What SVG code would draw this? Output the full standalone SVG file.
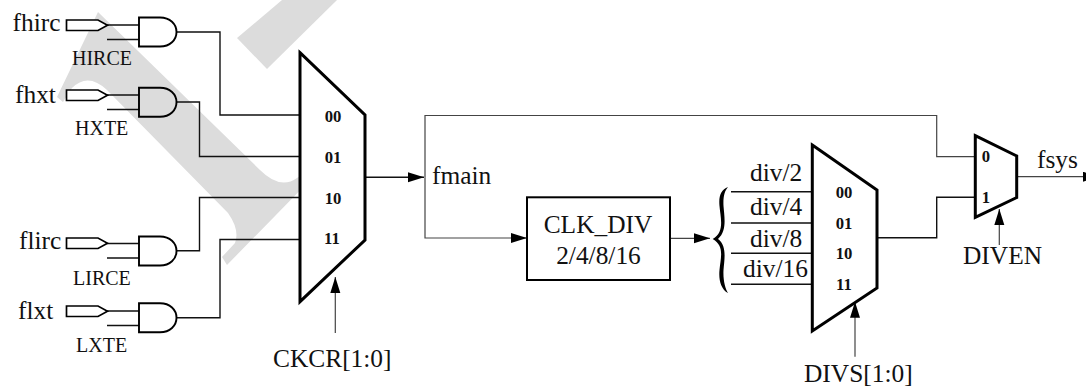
<svg xmlns="http://www.w3.org/2000/svg" width="1086" height="387" viewBox="0 0 1086 387">
<style>
text{font-family:"Liberation Serif","Times New Roman",serif;fill:#111}
.l{font-size:25.4px}.s{font-size:20px}.b{font-size:16.7px;font-weight:bold;text-anchor:middle}
.m{text-anchor:middle}
.w{fill:none;stroke:#111;stroke-width:1.4}
.t{fill:none;stroke:#444;stroke-width:1.2}
.mux{fill:#fff;stroke:#000;stroke-width:3;stroke-linejoin:miter}
.gate{fill:none;stroke:#000;stroke-width:1.9}
.pin{fill:#fff;stroke:#000;stroke-width:1.7}
.box{fill:#fff;stroke:#000;stroke-width:2}
.a{marker-end:url(#arrow)}
</style>
<defs>
<marker id="arrow" markerUnits="userSpaceOnUse" markerWidth="17" markerHeight="11" refX="16" refY="5" orient="auto"><path d="M0,0L16,5L0,10Z" fill="#000"/></marker>
<path id="and" d="M139,17.5H160C170,17.5 176.500,24 176.500,32C176.500,40 170,46.500 160,46.500H139Z"/>
<path id="pent" d="M66.500,20H98L107.500,25.200L98,30.500H66.500Z"/>
</defs>
<g id="watermark" fill="#dcdcdc">
<path d="M98,12L260,170Q280,190 297,178L312,168L317,173L227,265L222,257L235,243Q240,230 228,213L107,90Q88,72 72,88L63,102L57,97Z"/>
<path d="M237,38L267,69L337,0H282Z"/>
</g>
<g id="connectors">
<path class="w" d="M107,25H139M107,39.500H139M176,32H220V115H300"/>
<path class="w" d="M107,95H139M107,109.500H139M176,102H199.500V156.500H300"/>
<path class="w" d="M107,243.500H139M107,258H139M176,250.700H199.500V197.500H300"/>
<path class="w" d="M107,311H139M107,325.500H139M176,317.700H220V239.500H300"/>
<path class="w a" d="M366,177.300H424"/>
<path class="t" d="M425,177.300V115.500H936.700V156.700H975"/>
<path class="t a" d="M425,177.300V238H527"/>
<path class="t a" d="M670,238.300H710"/>
<path class="w" d="M731,191.700H812M731,223H812M731,253.300H812M731,284.300H812"/>
<path class="w" d="M877,237.700H936.700V197.300H975"/>
<path class="t a" d="M1018,176.700H1099"/>
<path class="t a" d="M335.300,333V277"/>
<path class="t a" d="M855,356.700V301.700"/>
<path class="t a" d="M999.300,245V209"/>
<path d="M728,187C721,190 718.500,196 719.500,206C720.500,218 725,232 712.700,239C725,246 720.500,258 719.500,270C718.500,280 721,289 728,293C725,288 723,280 723.500,270C724.500,258 727,246 718,239C727,231 724.500,218 723.500,206C723,197 724.500,191 728,187Z" fill="#000"/>
</g>
<g id="in-fhirc"><text class="l" x="12.500" y="31">fhirc</text><use href="#pent" class="pin"/><text class="s" x="72" y="64.700">HIRCE</text><use href="#and" class="gate"/></g>
<g id="in-fhxt"><text class="l" x="15" y="102.700">fhxt</text><use href="#pent" class="pin" y="70"/><text class="s" x="75" y="135">HXTE</text><use href="#and" class="gate" y="70.200"/></g>
<g id="in-flirc"><text class="l" x="19" y="249">flirc</text><use href="#pent" class="pin" y="218"/><text class="s" x="73" y="285">LIRCE</text><use href="#and" class="gate" y="219"/></g>
<g id="in-flxt"><text class="l" x="18" y="319.300">flxt</text><use href="#pent" class="pin" y="286"/><text class="s" x="76" y="352">LXTE</text><use href="#and" class="gate" y="285.700"/></g>
<g id="mux-ckcr"><path class="mux" d="M300,52.700L365,115V240L300,301.700Z"/><text class="b" x="333" y="121.700">00</text><text class="b" x="333" y="162.700">01</text><text class="b" x="333" y="204">10</text><text class="b" x="332" y="244">11</text><text class="l" x="273" y="366.700">CKCR[1:0]</text></g>
<g id="fmain"><text class="l" x="432" y="184">fmain</text></g>
<g id="clk-div"><rect class="box" x="527" y="197.300" width="143" height="82.700"/><text class="l m" x="598" y="233">CLK_DIV</text><text class="l m" x="598.500" y="264">2/4/8/16</text></g>
<g id="div-labels"><text class="l" x="750" y="180.700">div/2</text><text class="l" x="750" y="215">div/4</text><text class="l" x="750" y="246.700">div/8</text><text class="l" x="743" y="276.700">div/16</text></g>
<g id="mux-divs"><path class="mux" d="M812.300,145L877,190V288L812.300,331Z"/><text class="b" x="844" y="197.700">00</text><text class="b" x="844" y="229">01</text><text class="b" x="844" y="259">10</text><text class="b" x="844" y="290">11</text><text class="l" x="804" y="381.700">DIVS[1:0]</text></g>
<g id="mux-diven"><path class="mux" d="M975.300,135.700L1016.700,156V197.500L975.300,217.300Z"/><text class="b" x="986" y="161.700">0</text><text class="b" x="986" y="202.700">1</text><text class="l" x="1037" y="167.700">fsys</text><text class="l" x="963" y="264">DIVEN</text></g>
</svg>
